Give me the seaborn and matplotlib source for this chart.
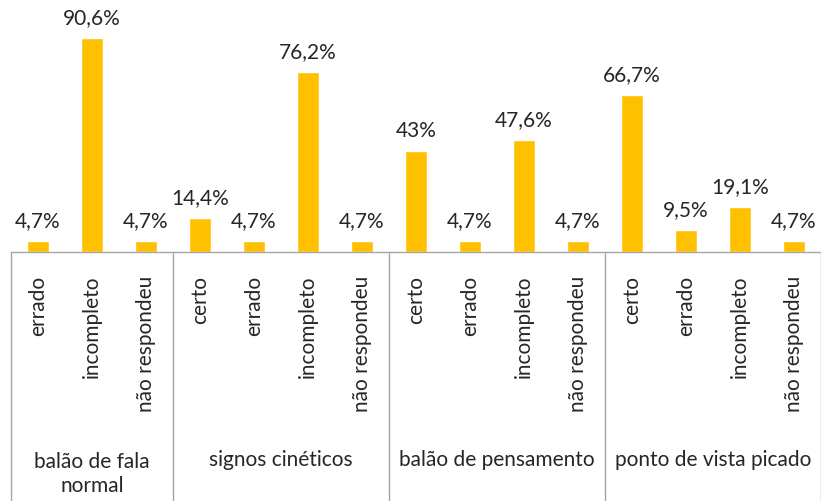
import matplotlib
matplotlib.use("Agg")
import matplotlib.pyplot as plt
import matplotlib.transforms as mtransforms
import seaborn as sns
import pandas as pd

# Question groups and the answer categories within each
groups = ["balão de fala\nnormal", "signos cinéticos", "balão de pensamento", "ponto de vista picado"]
answers = [
    ["errado", "incompleto", "não respondeu"],
    ["certo", "errado", "incompleto", "não respondeu"],
    ["certo", "errado", "incompleto", "não respondeu"],
    ["certo", "errado", "incompleto", "não respondeu"],
]
percentages = [
    [4.7, 90.6, 4.7],
    [14.4, 4.7, 76.2, 4.7],
    [43.0, 4.7, 47.6, 4.7],
    [66.7, 9.5, 19.1, 4.7],
]

rows = []
for g, (grp, ans, vals) in enumerate(zip(groups, answers, percentages)):
    for a, v in zip(ans, vals):
        rows.append({"key": f"{g}-{a}", "group": grp, "answer": a, "pct": v})
df = pd.DataFrame(rows)

sns.set_theme(style="white")
plt.rcParams["font.family"] = ["Lato", "DejaVu Sans"]

W, H = 821, 501
fig = plt.figure(figsize=(W / 100, H / 100), dpi=100)
ax_bottom, ax_top = 252, 16
ax = fig.add_axes([11 / W, (H - ax_bottom) / H, 810 / W, (ax_bottom - ax_top) / H])

text_color = "#262626"
line_color = "#A6A6A6"
fs = 15

sns.barplot(data=df, x="key", y="pct", order=list(df["key"]), color="#FFC000",
            saturation=1, width=22 / 54, ax=ax)

def fmt(v):
    s = f"{v:.1f}".replace(".", ",")
    if s.endswith(",0"):
        s = s[:-2]
    return s + "%"

ax.bar_label(ax.containers[0], labels=[fmt(v) for v in df["pct"]],
             padding=7, fontsize=fs, color=text_color)

ax.set_xlim(-0.5, len(df) - 0.5)
ax.set_ylim(0, 100)
ax.set_yticks([])
ax.set_xlabel("")
ax.set_ylabel("")
ax.set_xticks(range(len(df)))
ax.set_xticklabels(df["answer"], rotation=90, fontsize=fs, color=text_color, va="top")
ax.tick_params(axis="x", length=0, pad=17)

for s in ["left", "right", "top"]:
    ax.spines[s].set_visible(False)
ax.spines["bottom"].set_color(line_color)
ax.spines["bottom"].set_linewidth(1)

# Group dividers and group names below the category labels
trans = mtransforms.blended_transform_factory(ax.transData, fig.transFigure)
y_axis_fig = (H - ax_bottom) / H
start = 0
bounds = [-0.5]
for grp, ans in zip(groups, answers):
    end = start + len(ans)
    bounds.append(end - 0.5)
    center = (start + end - 1) / 2
    y_pix = 474 if "\n" in grp else 460
    ax.text(center, (H - y_pix) / H, grp, transform=trans, ha="center", va="center",
            fontsize=fs, color=text_color, linespacing=1.3)
    start = end
for b in bounds:
    ax.plot([b, b], [y_axis_fig, 0], transform=trans, color=line_color, lw=1, clip_on=False)

fig.savefig("out.png", dpi=100)
